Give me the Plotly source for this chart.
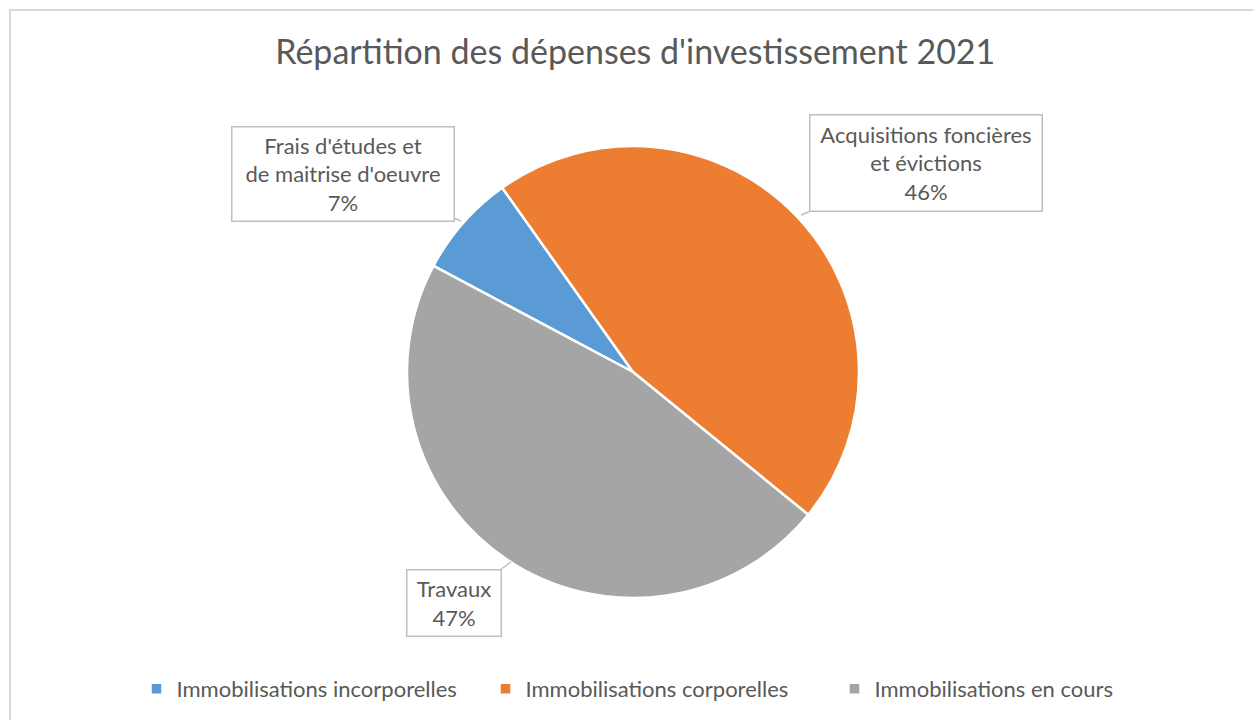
import plotly.graph_objects as go

W, H = 1253, 720

# ---- data ----
series_names = ["Immobilisations incorporelles", "Immobilisations corporelles", "Immobilisations en cours"]
category_labels = ["Frais d'études et<br>de maitrise d'oeuvre", "Acquisitions foncières<br>et évictions", "Travaux"]
values = [7.4, 45.7, 46.9]
pct_labels = ["7%", "46%", "47%"]
colors = ["#5B9BD5", "#ED7D31", "#A5A5A5"]

title_text = "Répartition des dépenses d'investissement 2021"
FONT = "Lato, Calibri, Carlito, sans-serif"
TXT = "#595959"

# layout geometry (pixels)
cx, cy, r = 633, 372, 226


def px(x):
    return x / W


def py(y):
    return 1 - y / H


fig = go.Figure()
fig.add_trace(go.Pie(
    labels=series_names,
    values=values,
    sort=False,
    direction="clockwise",
    rotation=-62,
    marker=dict(colors=colors, line=dict(color="white", width=2.5)),
    textinfo="none",
    hoverinfo="label+percent",
    domain=dict(x=[px(cx - r), px(cx + r)], y=[py(cy + r), py(cy - r)]),
))

# callout label boxes: (tip_x, tip_y, box_center_x, box_center_y, box_w, box_h)
callouts = [
    (461, 221, 343, 174, 223, 95),
    (801, 215, 926, 163, 233, 97),
    (511, 562, 454, 603, 95, 67),
]
for (tx, ty, bx, by, bw, bh), lab, pct in zip(callouts, category_labels, pct_labels):
    fig.add_annotation(
        x=px(tx), y=py(ty), xref="paper", yref="paper",
        ax=bx - tx, ay=by - ty, axref="pixel", ayref="pixel",
        text=f"{lab}<br>{pct}",
        showarrow=True, arrowhead=0, arrowwidth=1.5, arrowcolor="#BFBFBF",
        font=dict(family=FONT, size=22, color=TXT),
        align="center",
        bgcolor="white", bordercolor="#BFBFBF", borderwidth=1.5,
        width=bw - 4, height=bh - 4,
    )

# outer chart border
fig.add_shape(type="rect", xref="paper", yref="paper",
              x0=px(10), y0=py(730), x1=px(1263), y1=py(10),
              line=dict(color="#D9D9D9", width=2), fillcolor="rgba(0,0,0,0)", layer="below")

fig.update_layout(
    width=W, height=H, autosize=False,
    margin=dict(l=0, r=0, t=0, b=0),
    paper_bgcolor="white", plot_bgcolor="white",
    title=dict(text=title_text, x=0.507, xanchor="center", y=py(52), yanchor="middle",
               font=dict(family=FONT, size=34, color=TXT)),
    showlegend=True,
    legend=dict(orientation="h", x=px(660), xanchor="center", y=py(689), yanchor="middle",
                font=dict(family=FONT, size=22, color=TXT),
                bgcolor="rgba(0,0,0,0)",
                itemwidth=30, entrywidth=304, entrywidthmode="pixels",
                traceorder="normal"),
    font=dict(family=FONT),
)

fig.write_html("out.html", config={"displayModeBar": False},
               post_script="document.body.style.margin='0';document.body.style.overflow='hidden';")
